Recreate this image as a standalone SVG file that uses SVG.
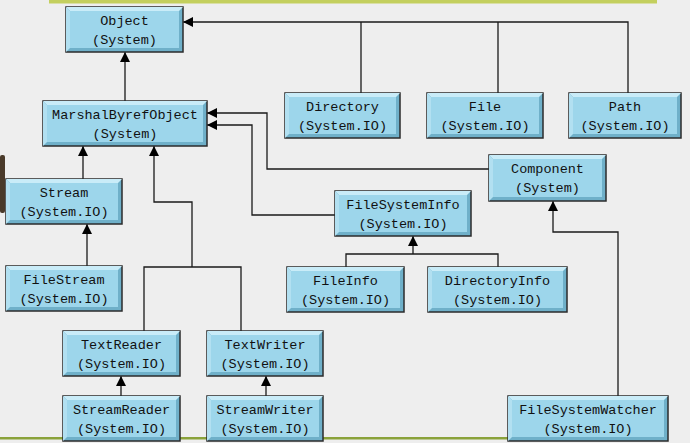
<svg xmlns="http://www.w3.org/2000/svg" width="690" height="443" viewBox="0 0 690 443">
<defs>
<marker id="arr" viewBox="0 0 10 10" refX="10" refY="5" markerWidth="11" markerHeight="10" markerUnits="userSpaceOnUse" orient="auto">
<path d="M0,0 L10,5 L0,10 z" fill="#000"/>
</marker>
</defs>
<style>
.bg{fill:#eeeeee}
.outer{fill:#6fb0c9;stroke:#2b2b2b;stroke-width:1.5}
.top{fill:#c9ecf8}
.left{fill:#b2e0f1}
.inner{fill:#9dd6eb}
.t{font-family:"Liberation Mono","DejaVu Sans Mono",monospace;font-size:13.5px;fill:#111;text-anchor:middle}
.c{fill:none;stroke:#1a1a1a;stroke-width:1.3}
.ca{fill:none;stroke:#1a1a1a;stroke-width:1.3;marker-end:url(#arr)}
</style>
<rect class="bg" x="0" y="0" width="690" height="443"/>
<rect x="49" y="0" width="608" height="3.5" fill="#c3cf5e"/>
<rect x="0" y="437" width="510" height="2.5" fill="#8aa23a"/>
<rect x="0" y="155" width="5" height="58" rx="2" fill="#4a3a2a"/>

<g id="connectors">
<path class="ca" d="M125,101 V52"/>
<path class="c" d="M361,93 V22"/>
<path class="c" d="M498,93 V22"/>
<path class="ca" d="M628,93 V22 H183"/>
<path class="ca" d="M489,169 H267 V113 H207"/>
<path class="ca" d="M335,215 H252 V125 H207"/>
<path class="ca" d="M83,179 V146"/>
<path class="ca" d="M87,266 V224"/>
<path class="c" d="M144,331 V267 H241 V331"/>
<path class="ca" d="M192,267 V202 H154 V146"/>
<path class="ca" d="M121,396 V376"/>
<path class="ca" d="M266,396 V376"/>
<path class="c" d="M346,267 V254 H498 V267"/>
<path class="ca" d="M413,254 V236"/>
<path class="ca" d="M618,396 V232 H553 V201"/>
</g>

<g id="object">
<rect class="outer" x="66" y="7" width="117" height="45"/>
<polygon class="top" points="66,7 183,7 179,11 70,11"/>
<polygon class="left" points="66,7 70,11 70,48 66,52"/>
<rect class="inner" x="70" y="11" width="109" height="37"/>
<text class="t" x="124.5" y="25">Object</text>
<text class="t" x="124.5" y="44">(System)</text>
</g>

<g id="marshalbyrefobject">
<rect class="outer" x="43" y="101" width="164" height="45"/>
<polygon class="top" points="43,101 207,101 203,105 47,105"/>
<polygon class="left" points="43,101 47,105 47,142 43,146"/>
<rect class="inner" x="47" y="105" width="156" height="37"/>
<text class="t" x="125" y="119">MarshalByrefObject</text>
<text class="t" x="125" y="138">(System)</text>
</g>

<g id="directory">
<rect class="outer" x="285" y="93" width="115" height="45"/>
<polygon class="top" points="285,93 400,93 396,97 289,97"/>
<polygon class="left" points="285,93 289,97 289,134 285,138"/>
<rect class="inner" x="289" y="97" width="107" height="37"/>
<text class="t" x="342.5" y="111">Directory</text>
<text class="t" x="342.5" y="130">(System.IO)</text>
</g>

<g id="file">
<rect class="outer" x="427" y="93" width="116" height="45"/>
<polygon class="top" points="427,93 543,93 539,97 431,97"/>
<polygon class="left" points="427,93 431,97 431,134 427,138"/>
<rect class="inner" x="431" y="97" width="108" height="37"/>
<text class="t" x="485" y="111">File</text>
<text class="t" x="485" y="130">(System.IO)</text>
</g>

<g id="path">
<rect class="outer" x="569" y="93" width="112" height="45"/>
<polygon class="top" points="569,93 681,93 677,97 573,97"/>
<polygon class="left" points="569,93 573,97 573,134 569,138"/>
<rect class="inner" x="573" y="97" width="104" height="37"/>
<text class="t" x="625" y="111">Path</text>
<text class="t" x="625" y="130">(System.IO)</text>
</g>

<g id="component">
<rect class="outer" x="489" y="155" width="117" height="46"/>
<polygon class="top" points="489,155 606,155 602,159 493,159"/>
<polygon class="left" points="489,155 493,159 493,197 489,201"/>
<rect class="inner" x="493" y="159" width="109" height="38"/>
<text class="t" x="547.5" y="173">Component</text>
<text class="t" x="547.5" y="192">(System)</text>
</g>

<g id="filesysteminfo">
<rect class="outer" x="335" y="191" width="136" height="45"/>
<polygon class="top" points="335,191 471,191 467,195 339,195"/>
<polygon class="left" points="335,191 339,195 339,232 335,236"/>
<rect class="inner" x="339" y="195" width="128" height="37"/>
<text class="t" x="403" y="209">FileSystemInfo</text>
<text class="t" x="403" y="228">(System.IO)</text>
</g>

<g id="stream">
<rect class="outer" x="6" y="179" width="116" height="45"/>
<polygon class="top" points="6,179 122,179 118,183 10,183"/>
<polygon class="left" points="6,179 10,183 10,220 6,224"/>
<rect class="inner" x="10" y="183" width="108" height="37"/>
<text class="t" x="64" y="197">Stream</text>
<text class="t" x="64" y="216">(System.IO)</text>
</g>

<g id="filestream">
<rect class="outer" x="6" y="266" width="116" height="45"/>
<polygon class="top" points="6,266 122,266 118,270 10,270"/>
<polygon class="left" points="6,266 10,270 10,307 6,311"/>
<rect class="inner" x="10" y="270" width="108" height="37"/>
<text class="t" x="64" y="284">FileStream</text>
<text class="t" x="64" y="303">(System.IO)</text>
</g>

<g id="fileinfo">
<rect class="outer" x="287" y="267" width="117" height="45"/>
<polygon class="top" points="287,267 404,267 400,271 291,271"/>
<polygon class="left" points="287,267 291,271 291,308 287,312"/>
<rect class="inner" x="291" y="271" width="109" height="37"/>
<text class="t" x="345.5" y="285">FileInfo</text>
<text class="t" x="345.5" y="304">(System.IO)</text>
</g>

<g id="directoryinfo">
<rect class="outer" x="428" y="267" width="139" height="45"/>
<polygon class="top" points="428,267 567,267 563,271 432,271"/>
<polygon class="left" points="428,267 432,271 432,308 428,312"/>
<rect class="inner" x="432" y="271" width="131" height="37"/>
<text class="t" x="497.5" y="285">DirectoryInfo</text>
<text class="t" x="497.5" y="304">(System.IO)</text>
</g>

<g id="textreader">
<rect class="outer" x="63" y="331" width="117" height="45"/>
<polygon class="top" points="63,331 180,331 176,335 67,335"/>
<polygon class="left" points="63,331 67,335 67,372 63,376"/>
<rect class="inner" x="67" y="335" width="109" height="37"/>
<text class="t" x="121.5" y="349">TextReader</text>
<text class="t" x="121.5" y="368">(System.IO)</text>
</g>

<g id="textwriter">
<rect class="outer" x="207" y="331" width="116" height="45"/>
<polygon class="top" points="207,331 323,331 319,335 211,335"/>
<polygon class="left" points="207,331 211,335 211,372 207,376"/>
<rect class="inner" x="211" y="335" width="108" height="37"/>
<text class="t" x="265" y="349">TextWriter</text>
<text class="t" x="265" y="368">(System.IO)</text>
</g>

<g id="streamreader">
<rect class="outer" x="63" y="396" width="117" height="45"/>
<polygon class="top" points="63,396 180,396 176,400 67,400"/>
<polygon class="left" points="63,396 67,400 67,437 63,441"/>
<rect class="inner" x="67" y="400" width="109" height="37"/>
<text class="t" x="121.5" y="414">StreamReader</text>
<text class="t" x="121.5" y="433">(System.IO)</text>
</g>

<g id="streamwriter">
<rect class="outer" x="207" y="396" width="116" height="45"/>
<polygon class="top" points="207,396 323,396 319,400 211,400"/>
<polygon class="left" points="207,396 211,400 211,437 207,441"/>
<rect class="inner" x="211" y="400" width="108" height="37"/>
<text class="t" x="265" y="414">StreamWriter</text>
<text class="t" x="265" y="433">(System.IO)</text>
</g>

<g id="filesystemwatcher">
<rect class="outer" x="508" y="396" width="160" height="45"/>
<polygon class="top" points="508,396 668,396 664,400 512,400"/>
<polygon class="left" points="508,396 512,400 512,437 508,441"/>
<rect class="inner" x="512" y="400" width="152" height="37"/>
<text class="t" x="588" y="414">FileSystemWatcher</text>
<text class="t" x="588" y="433">(System.IO)</text>
</g>
</svg>
